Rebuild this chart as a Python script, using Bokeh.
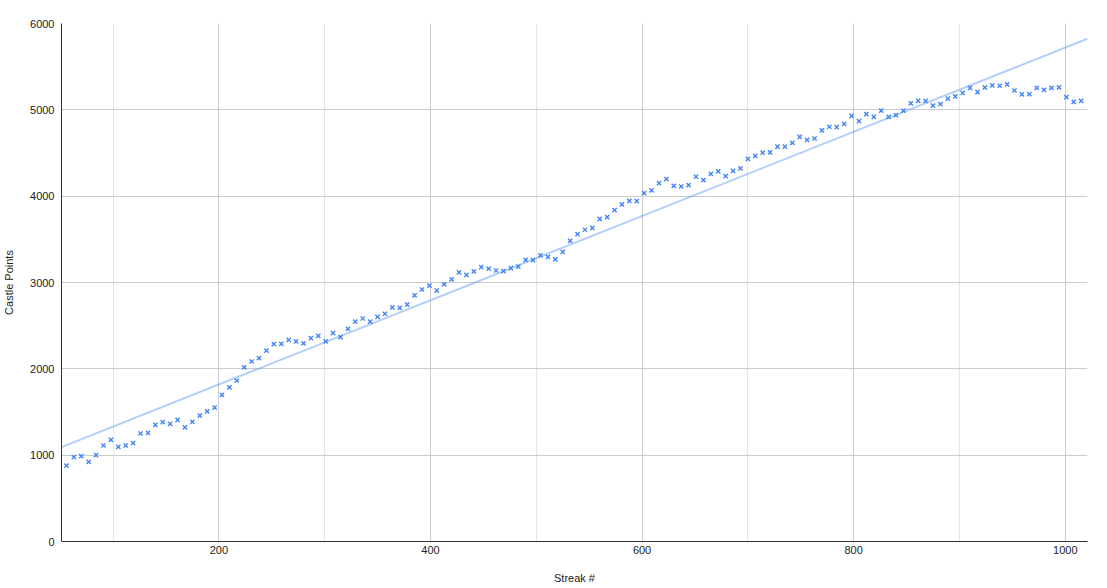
import numpy as np
from bokeh.plotting import figure
from bokeh.models import Range1d, FixedTicker
from bokeh.embed import file_html
from bokeh.resources import INLINE

# ---- data ----
streak = list(range(56, 1016, 7))
castle_points = [
    880, 977, 990, 922, 1000, 1112, 1178, 1097, 1112, 1139,
    1251, 1259, 1351, 1382, 1363, 1410, 1321, 1386, 1459, 1506,
    1552, 1699, 1784, 1862, 2016, 2085, 2123, 2212, 2286, 2290,
    2336, 2317, 2294, 2355, 2383, 2317, 2413, 2367, 2464, 2548,
    2583, 2548, 2603, 2638, 2711, 2707, 2745, 2850, 2919, 2965,
    2907, 2977, 3035, 3116, 3089, 3128, 3177, 3162, 3139, 3131,
    3166, 3185, 3263, 3258, 3313, 3298, 3267, 3356, 3483, 3560,
    3611, 3634, 3738, 3757, 3838, 3904, 3946, 3942, 4035, 4066,
    4150, 4197, 4120, 4112, 4127, 4225, 4185, 4259, 4286, 4231,
    4294, 4321, 4433, 4468, 4503, 4506, 4575, 4575, 4618, 4688,
    4653, 4668, 4761, 4804, 4799, 4838, 4931, 4869, 4950, 4919,
    4991, 4919, 4938, 4991, 5074, 5105, 5105, 5050, 5065, 5131,
    5155, 5197, 5255, 5205, 5259, 5282, 5279, 5294, 5224, 5178,
    5181, 5255, 5232, 5255, 5259, 5147, 5093, 5105,
]
x_major_ticks = [200, 400, 600, 800, 1000]
x_minor_ticks = [100, 300, 500, 700, 900]
y_ticks = [0, 1000, 2000, 3000, 4000, 5000, 6000]
x_title = "Streak #"
y_title = "Castle Points"

X_START, X_END = 51.3, 1021.0

p = figure(width=1100, height=586, output_backend="svg", toolbar_location=None,
           x_range=Range1d(X_START, X_END), y_range=Range1d(0, 6000),
           min_border_left=61, min_border_right=13, min_border_top=23, min_border_bottom=45)
p.outline_line_color = None
p.background_fill_color = "white"

# linear trendline (least squares on the data)
slope, intercept = np.polyfit(np.array(streak, float), np.array(castle_points, float), 1)
tx = [X_START, X_END]
ty = [intercept + slope * v for v in tx]
p.line(tx, ty, line_color="#4285f4", line_alpha=0.4, line_width=2)

p.scatter(streak, castle_points, marker="x", size=6, line_color="#4285f4", line_width=1.4)

# axes
p.xaxis.ticker = FixedTicker(ticks=x_major_ticks, minor_ticks=x_minor_ticks)
p.yaxis.ticker = FixedTicker(ticks=y_ticks)
for ax in (p.xaxis, p.yaxis):
    ax.major_tick_line_color = None
    ax.minor_tick_line_color = None
    ax.major_tick_out = 0
    ax.major_tick_in = 0
    ax.minor_tick_out = 0
    ax.minor_tick_in = 0
    ax.axis_line_color = "#333333"
    ax.major_label_text_font = "Liberation Sans"
    ax.major_label_text_font_size = "11px"
    ax.major_label_text_color = "#222222"
    ax.axis_label_text_font = "Liberation Sans"
    ax.axis_label_text_font_size = "11px"
    ax.axis_label_text_font_style = "normal"
    ax.axis_label_text_color = "#222222"
p.xaxis.axis_label = x_title
p.yaxis.axis_label = y_title
p.xaxis.major_label_standoff = 4
p.xaxis.axis_label_standoff = 15
p.yaxis.major_label_standoff = 7
p.yaxis.axis_label_standoff = 12

p.xgrid.grid_line_color = "#cccccc"
p.xgrid.minor_grid_line_color = "#e6e6e6"
p.ygrid.grid_line_color = "#cccccc"

open("out.html", "w").write(file_html(p, INLINE))
